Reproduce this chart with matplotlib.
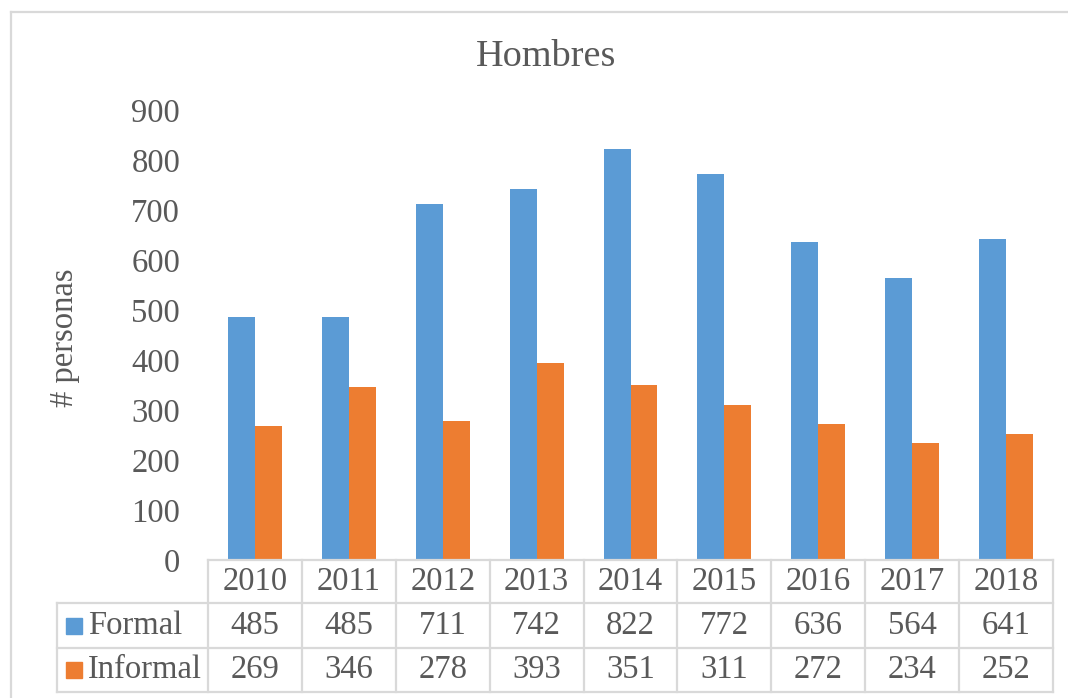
import matplotlib.pyplot as plt
from matplotlib.lines import Line2D
from matplotlib.patches import Rectangle
import numpy as np

years = ['2010', '2011', '2012', '2013', '2014', '2015', '2016', '2017', '2018']
formal = [485, 485, 711, 742, 822, 772, 636, 564, 641]
informal = [269, 346, 278, 393, 351, 311, 272, 234, 252]
series_names = ['Formal', 'Informal']

blue = '#5B9BD5'
orange = '#ED7D31'
grey = '#595959'
line_c = '#D9D9D9'

plt.rcParams['font.family'] = ['Liberation Serif', 'DejaVu Serif']

fig = plt.figure(figsize=(10.68, 6.98), dpi=100)
W, H = 1068, 698
# plot area in pixels
x0, x1 = 208, 1053
y_top, y_zero = 110, 560
ax = fig.add_axes([x0 / W, (H - y_zero) / H, (x1 - x0) / W, (y_zero - y_top) / H])

fs = 23.5

n = len(years)
x = np.arange(n)
bw = 0.287
ax.bar(x - bw / 2, formal, bw, color=blue)
ax.bar(x + bw / 2, informal, bw, color=orange)

ax.set_xlim(-0.5, n - 0.5)
ax.set_ylim(0, 900)
ax.set_yticks(range(0, 901, 100))
ax.tick_params(axis='y', length=0, labelsize=fs, labelcolor=grey, pad=20)
ax.set_xticks([])
for s in ax.spines.values():
    s.set_visible(False)

fig.text(65 / W, 1 - 338 / H, '# personas', rotation=90, ha='center', va='center',
         fontsize=fs, color=grey)
fig.text(546 / W, 1 - 57 / H, 'Hombres', ha='center', va='center',
         fontsize=27.5, color=grey)

# data table below the plot (axes coords)
axw, axh = x1 - x0, y_zero - y_top
row_px = [560, 603, 648, 692]
row_y = [(y_zero - p) / axh for p in row_px]
left_x = (57 - x0) / axw
tr = ax.transAxes
lw = 1.6

def hline(y, xa, xb):
    ax.add_line(Line2D([xa, xb], [y, y], transform=tr, color=line_c, lw=lw, clip_on=False))

def vline(xv, ya, yb):
    ax.add_line(Line2D([xv, xv], [ya, yb], transform=tr, color=line_c, lw=lw, clip_on=False))

hline(row_y[0], 0, 1)
for y in row_y[1:]:
    hline(y, left_x, 1)
for i in range(n + 1):
    vline(i / n, row_y[0], row_y[3])
vline(left_x, row_y[1], row_y[3])

for i, yr in enumerate(years):
    cx = (i + 0.5) / n
    ax.text(cx, (row_y[0] + row_y[1]) / 2, yr, transform=tr, ha='center', va='center',
            fontsize=fs, color=grey)
    ax.text(cx, (row_y[1] + row_y[2]) / 2, str(formal[i]), transform=tr, ha='center',
            va='center', fontsize=fs, color=grey)
    ax.text(cx, (row_y[2] + row_y[3]) / 2, str(informal[i]), transform=tr, ha='center',
            va='center', fontsize=fs, color=grey)

sq = 16
for name, col, (ya, yb) in zip(series_names, [blue, orange],
                               [(row_y[1], row_y[2]), (row_y[2], row_y[3])]):
    cy = (ya + yb) / 2
    ax.add_patch(Rectangle(((66 - x0) / axw, cy - (sq / 2) / axh), sq / axw, sq / axh,
                           transform=tr, color=col, clip_on=False))
    ax.text((88 - x0) / axw, cy, name, transform=tr, ha='left', va='center',
            fontsize=fs, color=grey)

# chart area border (top and left visible)
fig.add_artist(Line2D([11 / W, 1], [1 - 12 / H, 1 - 12 / H], color=line_c, lw=1.6))
fig.add_artist(Line2D([11 / W, 11 / W], [0, 1 - 12 / H], color=line_c, lw=1.6))

fig.savefig('out.png', dpi=100)
